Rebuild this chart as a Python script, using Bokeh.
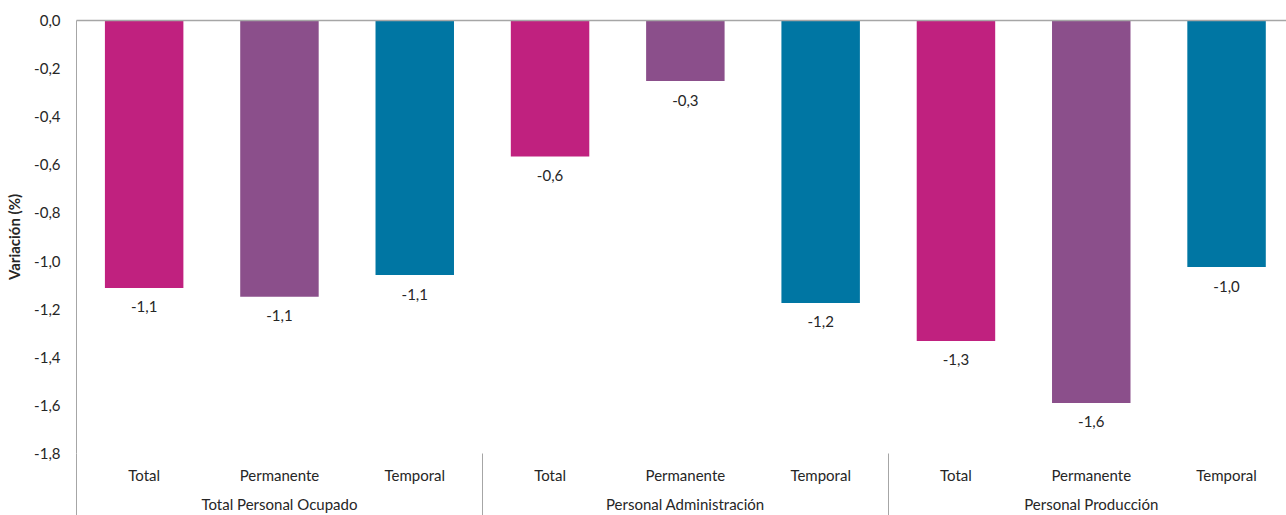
from bokeh.plotting import figure
from bokeh.models import (ColumnDataSource, Range1d, FixedTicker, LinearAxis,
                          CustomJSTickFormatter)
from bokeh.core.properties import value
from bokeh.embed import file_html
from bokeh.resources import INLINE

# ---- data ----
groups = ["Total Personal Ocupado", "Personal Administración", "Personal Producción"]
subcats = ["Total", "Permanente", "Temporal"]
values = [-1.112, -1.148, -1.058,
          -0.565, -0.252, -1.174,
          -1.332, -1.590, -1.025]
y_ticks = [0.0, -0.2, -0.4, -0.6, -0.8, -1.0, -1.2, -1.4, -1.6, -1.8]

palette = {"Total": "#C0217F", "Permanente": "#8B4F8B", "Temporal": "#0076A3"}

FONT = "Lato"
FS = "15px"
TXT = "#262626"
GRAY = "#A6A6A6"

n_sub = len(subcats)
pos = list(range(len(groups) * n_sub))
sub_of = [subcats[i % n_sub] for i in pos]
labels = [f"{v:.1f}".replace(".", ",") for v in values]
src = ColumnDataSource(dict(x=pos, v=values, lab=labels,
                            color=[palette[s] for s in sub_of]))

p = figure(width=1286, height=515, output_backend="svg", toolbar_location=None,
           x_range=Range1d(-0.5, 8.443), y_range=Range1d(-1.8, 0.0),
           min_border_top=20, min_border_left=76, min_border_right=0,
           min_border_bottom=0, x_axis_location=None)
p.outline_line_color = None
p.xgrid.visible = False
p.ygrid.visible = False
p.background_fill_color = "white"
p.border_fill_color = "white"

p.vbar(x="x", top=0, bottom="v", width=0.58, fill_color="color",
       line_color=None, source=src)
p.text(x="x", y="v", text="lab", source=src, text_align="center",
       text_baseline="middle", y_offset=19, text_font=value(FONT),
       text_font_size=FS, text_color=TXT)

# y axis
ya = p.yaxis[0]
ya.ticker = FixedTicker(ticks=y_ticks, minor_ticks=[])
ya.formatter = CustomJSTickFormatter(code="return tick.toFixed(1).replace('.', ',');")
ya.axis_label = "Variación (%)"
ya.axis_label_text_font = FONT
ya.axis_label_text_font_style = "bold"
ya.axis_label_text_font_size = FS
ya.axis_label_text_color = TXT
ya.axis_label_standoff = 8
ya.major_label_text_font = FONT
ya.major_label_text_font_size = FS
ya.major_label_text_color = TXT
ya.major_label_standoff = 16
ya.major_tick_line_color = None
ya.major_tick_out = 0
ya.major_tick_in = 0
ya.minor_tick_line_color = None
ya.axis_line_color = GRAY

# zero line: category axis crossing at 0 (top of frame)
za = LinearAxis(ticker=FixedTicker(ticks=[], minor_ticks=[]))
za.axis_line_color = GRAY
za.axis_line_width = 1.5
za.major_tick_line_color = None
za.minor_tick_line_color = None
za.major_tick_out = 0
za.major_label_standoff = 0
p.add_layout(za, "above")

def plain_axis(ticks, names, standoff):
    ax = LinearAxis(ticker=FixedTicker(ticks=ticks, minor_ticks=[]),
                    major_label_overrides=dict(zip(ticks, names)))
    ax.axis_line_color = None
    ax.major_tick_line_color = None
    ax.major_tick_out = 0
    ax.major_tick_in = 0
    ax.minor_tick_line_color = None
    ax.minor_tick_out = 0
    ax.minor_tick_in = 0
    ax.major_label_standoff = standoff
    ax.major_label_text_font = FONT
    ax.major_label_text_font_size = FS
    ax.major_label_text_color = TXT
    return ax

# sub-category axis
xa1 = plain_axis(pos, sub_of, 12)
p.add_layout(xa1, "below")

# group axis
gcent = [i * n_sub + (n_sub - 1) // 2 for i in range(len(groups))]
xa2 = plain_axis(gcent, groups, 8)
p.add_layout(xa2, "below")

# separator axis: group boundaries drawn as upward minor ticks
sep = [i * n_sub - 0.5 for i in range(len(groups))]
xa3 = LinearAxis(ticker=FixedTicker(ticks=[], minor_ticks=sep))
xa3.axis_line_color = None
xa3.major_tick_line_color = None
xa3.major_tick_out = 0
xa3.major_tick_in = 0
xa3.major_label_standoff = 0
xa3.minor_tick_line_color = GRAY
xa3.minor_tick_out = 0
xa3.minor_tick_in = 62
p.add_layout(xa3, "below")

open("out.html", "w").write(file_html(p, INLINE))
